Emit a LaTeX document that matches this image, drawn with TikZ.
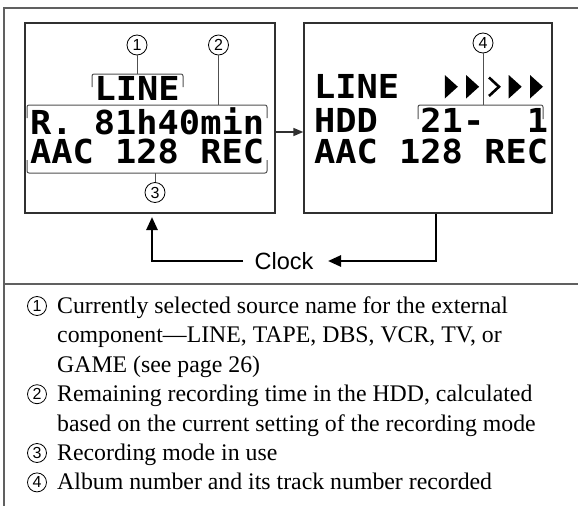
\documentclass[tikz,border=0pt]{standalone}
\usepackage{fontspec}
\usetikzlibrary{arrows.meta}
\setmainfont{Liberation Serif}
\newfontfamily\lcdfont{DejaVu Sans Mono}[FakeStretch=1.07]
\newfontfamily\sansfont{Liberation Sans}
\definecolor{framec}{HTML}{606060}
\definecolor{boxc}{HTML}{303030}
\definecolor{brkc}{HTML}{505050}
\begin{document}
\begin{tikzpicture}[x=1pt,y=-1pt,
  lcdbox/.style={draw=boxc, line width=1.3pt, minimum width=250pt, minimum height=190pt, inner sep=0pt},
  lcdrow/.style={anchor=base west, inner sep=0pt, text height=23pt, text depth=0pt, font=\lcdfont\bfseries\fontsize{33}{33}\selectfont},
  callout/.style={circle, draw=black, line width=0.8pt, minimum size=20pt, inner sep=0pt, font=\sansfont\fontsize{16}{16}\selectfont},
  bracketline/.style={draw=brkc, line width=1pt, rounded corners=2pt},
  leader/.style={draw=brkc, line width=1pt},
  desc/.style={anchor=base west, inner sep=0pt, text height=16pt, text depth=5pt, font=\fontsize{23.8}{29.4}\selectfont},
  clockarrow/.style={line width=2.6pt, -{Triangle[length=13pt,width=11pt]}},
  midarrow/.style={draw=boxc, line width=1.5pt, -{Triangle[length=10pt,width=8pt]}},
  framel/.style={draw=framec, line width=1.8pt}
]
\useasboundingbox (0,0) rectangle (578,506);
% outer frame
\draw[framel] (578,8) -- (4,8) -- (4,506);
\draw[framel] (4,284) -- (578,284);
% LCD boxes
\node[lcdbox] (L) at (150,118) {};
\node[lcdbox, minimum width=248pt] (R) at (428,118) {};
% left LCD text
\node[lcdrow] (l1) at (94.5,100.5) {LINE};
\node[lcdrow] (l2) at (30,134) {R.~81h40min};
\node[lcdrow] (l3) at (30,163.5) {AAC~128~REC};
% right LCD text
\node[lcdrow] (r1) at (314,98.5) {LINE};
\node[lcdrow] (r2) at (314,132.7) {HDD~~21-~~1};
\node[lcdrow] (r3) at (314,163.3) {AAC~128~REC};
\foreach \c in {6,7,9,10}{
  \fill[black] ({314+\c*21.3+3},75) -- ({314+\c*21.3+16},86.75) -- ({314+\c*21.3+3},98.5) -- cycle;
}
\draw[black, line width=2.6pt, miter limit=10] (489,77.5) -- (499,86.75) -- (489,96);
% brackets
\draw[bracketline] (92,87) -- (92,74) -- (183,74) -- (183,87);
\draw[bracketline] (27,118) -- (27,105) -- (267,105) -- (267,118);
\draw[bracketline] (27,160) -- (27,173) -- (267,173) -- (267,160);
\draw[bracketline] (418,119) -- (418,105) -- (543,105) -- (543,119);
\coordinate (b1) at (137,74);
\coordinate (b2) at (219,105);
\coordinate (b3) at (155,173);
\coordinate (b4) at (483,105);
% callouts
\node[callout] (c1) at (137,45) {1};
\node[callout] (c2) at (218.5,45) {2};
\node[callout] (c3) at (155,192.5) {3};
\node[callout] (c4) at (483,43) {4};
\draw[leader] (c1.south) -- (b1);
\draw[leader] (c2.south) -- (c2.south |- b2);
\draw[leader] (c3.north) -- (b3);
\draw[leader] (c4.south) -- (b4);
% arrow between displays
\coordinate (mid) at (0,132);
\draw[midarrow] (L.east |- mid) -- (R.west |- mid);
% clock loop
\node[anchor=base, inner sep=0pt, font=\sansfont\fontsize{23.5}{23.5}\selectfont] (clk) at (284,269) {Clock};
\coordinate (lx) at (152,217);
\coordinate (rx) at (436,0);
\coordinate (cl) at (243,261);
\coordinate (cr) at (328,261);
\draw[clockarrow] (cl) -| (lx);
\draw[clockarrow] (R.south -| rx) |- (cr);
% descriptions
\node[desc] (t1) at (57,313.5) {Currently selected source name for the external};
\node[desc] (t2) at (57,342.9) {component—LINE, TAPE, DBS, VCR, TV, or};
\node[desc] (t3) at (57,372.3) {GAME (see page 26)};
\node[desc] (t4) at (57,401.7) {Remaining recording time in the HDD, calculated};
\node[desc] (t5) at (57,431.1) {based on the current setting of the recording mode};
\node[desc] (t6) at (57,460.5) {Recording mode in use};
\node[desc] (t7) at (57,489.9) {Album number and its track number recorded};
\node[callout, minimum size=19pt] (n1) at (37,306) {1};
\node[callout, minimum size=19pt] (n2) at (37,394.2) {2};
\node[callout, minimum size=19pt] (n3) at (37,453) {3};
\node[callout, minimum size=19pt] (n4) at (37,482.4) {4};
\end{tikzpicture}
\end{document}
